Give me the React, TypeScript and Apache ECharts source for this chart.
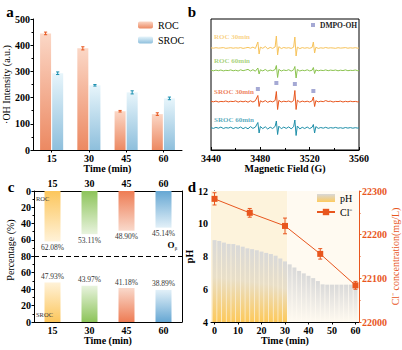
import React, { useEffect, useRef } from 'react';
import * as echarts from 'echarts';

// ---------- data ----------
const timeCats = ['15', '30', '45', '60'];
const rocOH = [445, 388, 148, 137];
const rocOHErr = [5, 6, 3, 5];
const srocOH = [293, 247, 220, 197];
const srocOHErr = [5, 3, 6, 5];

const eprField = [
  3440, 3442, 3444, 3446, 3448, 3450, 3452, 3454, 3456, 3458, 3460, 3462, 3464, 3466, 3468, 3470, 3472, 3474, 3476,
  3478, 3479, 3480, 3482, 3484, 3486, 3488, 3490, 3492,
  3493, 3494, 3495, 3497, 3499, 3501, 3503, 3505, 3507,
  3508, 3509, 3510, 3512, 3514, 3516, 3518, 3520, 3522,
  3523, 3524, 3525, 3527,
  3529, 3531, 3533, 3535, 3537, 3539, 3541, 3543, 3545, 3547, 3549, 3551, 3553, 3555, 3557, 3559, 3560,
];
const eprRoc30 = [
  102.2, 101.8, 102.3, 101.9, 102.1, 102.4, 101.7, 102.0, 102.3, 101.8, 102.2, 101.9, 102.4, 101.6, 102.1, 102.6, 101.8, 102.9, 101.5,
  108.0, 96.0, 102.8, 101.7, 103.5, 101.2, 102.6, 101.6, 103.0,
  114.0, 95.0, 103.3, 101.5, 102.5, 101.9, 102.3, 101.6, 102.8,
  113.0, 94.0, 102.9, 101.4, 102.4, 101.8, 102.3, 101.7, 102.6,
  108.0, 97.0, 102.7, 101.6,
  102.2, 101.8, 102.5, 101.9, 102.2, 102.0, 101.7, 102.3, 101.9, 102.1, 102.4, 101.8, 102.2, 101.9, 102.3, 101.8, 102.0,
];
const eprRoc60 = [
  79.8, 79.2, 79.9, 79.3, 80.0, 79.1, 79.7, 79.4, 80.1, 79.2, 79.8, 79.0, 80.2, 79.3, 79.9, 80.6, 79.0, 80.3, 78.8,
  82.0, 76.0, 80.2, 79.1, 80.5, 78.9, 79.9, 79.3, 80.4,
  84.5, 72.5, 80.6, 79.0, 80.0, 79.4, 80.3, 78.9, 80.2,
  83.5, 72.0, 80.5, 79.0, 79.8, 79.3, 80.2, 79.1, 79.8,
  82.5, 76.5, 80.1, 79.2,
  79.8, 79.4, 80.1, 79.3, 79.9, 79.5, 80.0, 79.2, 79.8, 79.4, 80.1, 79.3, 79.7, 79.5, 80.0, 79.3, 79.7,
];
const eprSroc30 = [
  48.7, 48.2, 48.9, 48.0, 48.6, 48.3, 49.0, 48.1, 48.7, 48.4, 49.1, 47.9, 48.8, 48.2, 48.9, 47.8, 49.2, 48.0, 49.3,
  54.5, 43.5, 49.2, 48.0, 49.4, 47.7, 48.9, 48.1, 49.5,
  58.5, 40.5, 49.6, 48.0, 48.8, 48.3, 49.0, 47.9, 49.4,
  59.5, 40.5, 49.8, 47.8, 48.9, 48.2, 48.8, 48.0, 49.2,
  53.0, 43.5, 49.3, 48.1,
  48.8, 48.3, 49.4, 48.5, 48.9, 48.0, 48.6, 48.4, 48.9, 48.0, 48.7, 48.2, 48.8, 48.3, 48.6, 48.1, 48.5,
];
const eprSroc60 = [
  22.3, 21.6, 22.6, 21.8, 22.9, 21.5, 22.4, 21.9, 22.8, 21.4, 22.5, 21.7, 23.0, 21.3, 22.6, 21.2, 23.4, 21.6, 22.9,
  27.5, 17.0, 23.5, 21.4, 23.2, 21.0, 22.8, 21.5, 23.6,
  29.0, 15.5, 23.8, 21.3, 22.9, 21.6, 23.1, 21.2, 23.3,
  30.0, 14.5, 24.0, 21.1, 22.7, 21.5, 23.0, 21.4, 22.8,
  25.5, 17.0, 23.4, 21.6,
  22.5, 21.8, 22.7, 21.7, 22.4, 21.9, 22.6, 21.8, 22.3, 21.7, 22.5, 21.9, 22.4, 21.8, 22.3, 21.9, 22.2,
];
const dmpoField = [3478, 3493, 3508, 3523];
const dmpoLevel = [61, 67, 66, 59];

const rocPct = [62.08, 53.11, 48.9, 45.14];
const srocPct = [47.93, 43.97, 41.18, 38.89];

const phTime = [0, 2, 4, 6, 8, 10, 12, 14, 16, 18, 20, 22, 24, 26, 28, 30, 32, 34, 36, 38, 40, 42, 44, 46, 48, 50, 52, 54, 56, 58, 60];
const phValues = [9.0, 8.95, 8.85, 8.77, 8.76, 8.68, 8.6, 8.5, 8.45, 8.38, 8.3, 8.22, 8.15, 8.05, 7.88, 7.7, 7.52, 7.33, 7.12, 6.97, 6.82, 6.68, 6.5, 6.3, 6.28, 6.28, 6.28, 6.28, 6.28, 6.28, 6.28];
const clTime = [0, 15, 30, 45, 60];
const clValues = [22282, 22250, 22220, 22156, 22084];
const clErr = [14, 10, 18, 12, 9];
const dTimeTicks = [0, 10, 20, 30, 40, 50, 60];

// ---------- styles ----------
const FONT = 'Liberation Serif, Times New Roman, serif';
const RED = '#e8561e';
const cSat = ['#fcc65c', '#8dc45a', '#ee7c54', '#66a7d3'];
const cPale = ['#fff2d8', '#e8f3de', '#f9d9cb', '#e2f0f8'];
const plain = (v: number) => String(v);

const grad = (a: string, b: string) =>
  new echarts.graphic.LinearGradient(0, 0, 0, 1, [
    { offset: 0, color: a },
    { offset: 1, color: b },
  ]);

function errorBarRender(offset: number, cap: number) {
  return (params: any, api: any) => {
    const xv = api.value(0);
    const v = api.value(1);
    const e = api.value(2);
    const hi = api.coord([xv, v + e]);
    const lo = api.coord([xv, v - e]);
    const cx = hi[0] + offset;
    const style = { stroke: api.visual('color'), lineWidth: 1, fill: 'none' };
    return {
      type: 'group',
      children: [
        { type: 'line', shape: { x1: cx, y1: hi[1], x2: cx, y2: lo[1] }, style },
        { type: 'line', shape: { x1: cx - cap, y1: hi[1], x2: cx + cap, y2: hi[1] }, style },
        { type: 'line', shape: { x1: cx - cap, y1: lo[1], x2: cx + cap, y2: lo[1] }, style },
      ],
    };
  };
}

const axisBase = {
  axisLine: { show: true, lineStyle: { color: '#000', width: 1 } },
  axisTick: { show: true, length: 2.5, lineStyle: { color: '#000' } },
  axisLabel: { color: '#000', fontSize: 10, fontFamily: FONT, fontWeight: 'bold' },
  splitLine: { show: false },
  nameTextStyle: { color: '#000', fontSize: 10, fontFamily: FONT, fontWeight: 'bold' },
};

function buildOption(): any {
  const spectra = [
    { name: 'ROC 30min', data: eprRoc30, color: '#f7c35a' },
    { name: 'ROC 60min', data: eprRoc60, color: '#8bc34f' },
    { name: 'SROC 30min', data: eprSroc30, color: RED },
    { name: 'SROC 60min', data: eprSroc60, color: '#1e8fa9' },
  ];

  return {
    animation: false,
    backgroundColor: '#fff',
    textStyle: { fontFamily: FONT },
    grid: [
      { left: 33, top: 19, width: 149, height: 131 },
      { left: 211, top: 19, width: 148, height: 131, show: true, borderColor: '#000', borderWidth: 1, backgroundColor: 'transparent' },
      { left: 34, top: 191, width: 148, height: 65 },
      { left: 34, top: 256, width: 148, height: 66 },
      { left: 211, top: 191, width: 148, height: 131 },
    ],
    legend: [
      {
        data: ['ROC', 'SROC'], orient: 'vertical', left: 138, top: 20, itemWidth: 15, itemHeight: 7, itemGap: 5,
        padding: 0, textStyle: { fontSize: 10, color: '#000', fontFamily: FONT },
      },
      {
        data: [{ name: 'DMPO-OH', icon: 'rect' }], left: 311, top: 21, itemWidth: 4, itemHeight: 4, padding: 0,
        textStyle: { fontSize: 7.5, fontWeight: 'bold', color: '#222', fontFamily: FONT },
      },
      {
        data: [{ name: 'pH', icon: 'rect' }, { name: 'Cl⁻' }], orient: 'vertical', left: 316, top: 193,
        itemWidth: 18, itemHeight: 8, itemGap: 4, padding: 0,
        textStyle: { fontSize: 10, color: '#000', fontFamily: FONT },
      },
    ],
    xAxis: [
      {
        ...axisBase, type: 'category', gridIndex: 0, data: timeCats,
        axisTick: { ...axisBase.axisTick, alignWithLabel: true },
        axisLabel: { ...axisBase.axisLabel, margin: 3 },
        name: 'Time (min)', nameLocation: 'middle', nameGap: 11,
      },
      {
        ...axisBase, type: 'value', gridIndex: 1, min: 3440, max: 3560, interval: 40,
        axisTick: { ...axisBase.axisTick, inside: true, length: 3 },
        minorTick: { show: true, splitNumber: 2, length: 2, lineStyle: { color: '#000' } },
        axisLabel: { ...axisBase.axisLabel, margin: 3, formatter: plain },
        name: 'Magnetic Field (G)', nameLocation: 'middle', nameGap: 11,
      },
      {
        ...axisBase, type: 'category', gridIndex: 2, position: 'top', data: timeCats,
        axisTick: { show: false },
        axisLabel: { ...axisBase.axisLabel, margin: 3 },
      },
      {
        ...axisBase, type: 'category', gridIndex: 3, data: timeCats,
        axisTick: { show: false },
        axisLabel: { ...axisBase.axisLabel, margin: 3 },
        name: 'Time (min)', nameLocation: 'middle', nameGap: 11,
      },
      {
        ...axisBase, type: 'value', gridIndex: 4, min: -1.5, max: 61.5,
        axisTick: { ...axisBase.axisTick, customValues: dTimeTicks },
        axisLabel: { ...axisBase.axisLabel, margin: 3, customValues: dTimeTicks, formatter: plain },
        name: 'Time (min)', nameLocation: 'middle', nameGap: 11,
      },
    ],
    yAxis: [
      {
        ...axisBase, type: 'value', gridIndex: 0, min: 0, max: 500, interval: 100,
        minorTick: { show: true, splitNumber: 2, length: 1.5, lineStyle: { color: '#000' } },
        axisLabel: { ...axisBase.axisLabel, margin: 3 },
        name: '·OH Intensity (a.u.)', nameLocation: 'middle', nameGap: 19, nameRotate: 90,
        nameTextStyle: { ...axisBase.nameTextStyle, fontWeight: 'normal' },
      },
      { type: 'value', gridIndex: 1, min: 0, max: 131, show: false },
      {
        ...axisBase, type: 'value', gridIndex: 2, min: 0, max: 80, interval: 20, inverse: true,
        minorTick: { show: true, splitNumber: 2, length: 1.5, lineStyle: { color: '#000' } },
        axisLabel: { ...axisBase.axisLabel, margin: 3 },
      },
      {
        ...axisBase, type: 'value', gridIndex: 3, min: 0, max: 80, interval: 20,
        minorTick: { show: true, splitNumber: 2, length: 1.5, lineStyle: { color: '#000' } },
        axisLabel: { ...axisBase.axisLabel, margin: 3, showMaxLabel: false },
      },
      {
        type: 'value', gridIndex: 2, position: 'right', min: 0, max: 80, inverse: true,
        axisLine: { show: true, lineStyle: { color: '#000' } }, axisTick: { show: false }, axisLabel: { show: false }, splitLine: { show: false },
      },
      {
        type: 'value', gridIndex: 3, position: 'right', min: 0, max: 80,
        axisLine: { show: true, lineStyle: { color: '#000' } }, axisTick: { show: false }, axisLabel: { show: false }, splitLine: { show: false },
      },
      {
        ...axisBase, type: 'value', gridIndex: 4, min: 4, max: 12, interval: 2,
        minorTick: { show: true, splitNumber: 2, length: 1.5, lineStyle: { color: '#000' } },
        axisLabel: { ...axisBase.axisLabel, margin: 3 },
        name: 'pH', nameLocation: 'middle', nameGap: 15, nameRotate: 90,
      },
      {
        ...axisBase, type: 'value', gridIndex: 4, position: 'right', min: 22000, max: 22300, interval: 100,
        axisLine: { show: true, lineStyle: { color: RED, width: 1 } },
        axisTick: { show: true, length: 2.5, lineStyle: { color: RED } },
        minorTick: { show: true, splitNumber: 2, length: 1.5, lineStyle: { color: RED } },
        axisLabel: { ...axisBase.axisLabel, color: RED, margin: 3, formatter: plain },
        name: 'Cl⁻ concentration(mg/L)', nameLocation: 'middle', nameGap: 29, nameRotate: 90,
        nameTextStyle: { color: RED, fontSize: 10, fontFamily: FONT },
      },
    ],
    series: [
      // ---- panel a ----
      {
        name: 'ROC', type: 'bar', xAxisIndex: 0, yAxisIndex: 0, data: rocOH, barWidth: 11, barGap: '10%',
        itemStyle: { color: grad('#fbd7c6', '#ec8962') },
      },
      {
        name: 'SROC', type: 'bar', xAxisIndex: 0, yAxisIndex: 0, data: srocOH, barWidth: 11, barGap: '10%',
        itemStyle: { color: grad('#e7f5fb', '#8ebfdc') },
      },
      {
        name: 'ROC err', type: 'custom', xAxisIndex: 0, yAxisIndex: 0, z: 5,
        dimensions: ['x', 'y', 'e'], encode: { x: 0, y: 1 },
        itemStyle: { color: RED },
        data: timeCats.map((c, i) => [c, rocOH[i], rocOHErr[i]]),
        renderItem: errorBarRender(-6.05, 1.6),
      },
      {
        name: 'SROC err', type: 'custom', xAxisIndex: 0, yAxisIndex: 0, z: 5,
        dimensions: ['x', 'y', 'e'], encode: { x: 0, y: 1 },
        itemStyle: { color: '#1a8fb0' },
        data: timeCats.map((c, i) => [c, srocOH[i], srocOHErr[i]]),
        renderItem: errorBarRender(6.05, 1.6),
      },
      // ---- panel b ----
      ...spectra.map((s) => ({
        name: s.name, type: 'line', xAxisIndex: 1, yAxisIndex: 1, showSymbol: false, symbol: 'none',
        data: eprField.map((x, i) => [x, s.data[i]]),
        lineStyle: { color: s.color, width: 1 }, itemStyle: { color: s.color },
      })),
      {
        name: 'DMPO-OH', type: 'scatter', xAxisIndex: 1, yAxisIndex: 1, symbol: 'rect', symbolSize: 4, z: 5,
        itemStyle: { color: '#8f93c9' },
        data: dmpoField.map((x, i) => [x, dmpoLevel[i]]),
      },
      // ---- panel c ----
      {
        name: 'ROC Oβ', type: 'bar', xAxisIndex: 2, yAxisIndex: 2, barWidth: 16,
        data: rocPct.map((v, i) => ({ value: v, itemStyle: { color: grad(cSat[i], cPale[i]) } })),
        label: {
          show: true, position: 'bottom', distance: 2, fontSize: 7.5, color: '#333', fontFamily: FONT,
          formatter: (p: any) => `${Number(p.value).toFixed(2)}%`,
        },
      },
      {
        name: 'SROC Oβ', type: 'bar', xAxisIndex: 3, yAxisIndex: 3, barWidth: 16,
        data: srocPct.map((v, i) => ({ value: v, itemStyle: { color: grad(cPale[i], cSat[i]) } })),
        label: {
          show: true, position: 'top', distance: 2, fontSize: 7.5, color: '#333', fontFamily: FONT,
          formatter: (p: any) => `${Number(p.value).toFixed(2)}%`,
        },
        markLine: {
          silent: true, symbol: ['none', 'none'], label: { show: false },
          lineStyle: { color: '#000', type: [5, 3], width: 1 },
          data: [{ yAxis: 80 }],
        },
      },
      // ---- panel d ----
      {
        name: 'pH', type: 'bar', xAxisIndex: 4, yAxisIndex: 6, barWidth: 4,
        itemStyle: { color: grad('#d8d8d8', '#fdcb60') },
        data: phTime.map((t, i) => ({
          value: [t, phValues[i]],
          itemStyle: {
            color: t <= 30
              ? new echarts.graphic.LinearGradient(0, 0, 0, 1, [
                  { offset: 0, color: '#d9d9d9' },
                  { offset: 0.45, color: '#e9dfc8' },
                  { offset: 1, color: '#fdc95a' },
                ])
              : grad('#d9d9d9', '#fffaf0'),
          },
        })),
        markArea: {
          silent: true,
          data: [
            [{ xAxis: -1.5, itemStyle: { color: '#fdf3dc' } }, { xAxis: 31 }],
            [{ xAxis: 31, itemStyle: { color: '#fffaf1' } }, { xAxis: 61.5 }],
          ],
        },
      },
      {
        name: 'Cl⁻', type: 'line', xAxisIndex: 4, yAxisIndex: 7, symbol: 'rect', symbolSize: 6, z: 6,
        lineStyle: { color: RED, width: 1 }, itemStyle: { color: RED },
        data: clTime.map((t, i) => [t, clValues[i]]),
      },
      {
        name: 'Cl err', type: 'custom', xAxisIndex: 4, yAxisIndex: 7, z: 5,
        dimensions: ['x', 'y', 'e'], encode: { x: 0, y: 1 },
        itemStyle: { color: RED },
        data: clTime.map((t, i) => [t, clValues[i], clErr[i]]),
        renderItem: errorBarRender(0, 2),
      },
    ],
    graphic: [
      { type: 'text', z: 100, x: 10, y: 12, style: { text: 'a', font: `bold 15px ${FONT}`, fill: '#000', align: 'center', verticalAlign: 'middle' } },
      { type: 'text', z: 100, x: 192, y: 12, style: { text: 'b', font: `bold 15px ${FONT}`, fill: '#000', align: 'center', verticalAlign: 'middle' } },
      { type: 'text', z: 100, x: 11, y: 187, style: { text: 'c', font: `bold 15px ${FONT}`, fill: '#000', align: 'center', verticalAlign: 'middle' } },
      { type: 'text', z: 100, x: 192, y: 187, style: { text: 'd', font: `bold 15px ${FONT}`, fill: '#000', align: 'center', verticalAlign: 'middle' } },
      ...spectra.map((s, i) => ({
        type: 'text', z: 100, x: 214, y: [37, 61, 92, 120][i],
        style: { text: s.name, font: `bold 7px ${FONT}`, fill: s.color, align: 'left', verticalAlign: 'middle', opacity: 0.75 },
      })),
      { type: 'text', z: 100, x: 36, y: 198, style: { text: 'ROC', font: `6.5px ${FONT}`, fill: '#333', align: 'left', verticalAlign: 'middle' } },
      { type: 'text', z: 100, x: 36, y: 314, style: { text: 'SROC', font: `6.5px ${FONT}`, fill: '#333', align: 'left', verticalAlign: 'middle' } },
      { type: 'text', z: 100, x: 171, y: 245, style: { text: 'O', font: `bold 9px ${FONT}`, fill: '#000', align: 'center', verticalAlign: 'middle' } },
      { type: 'text', z: 100, x: 176, y: 248, style: { text: 'β', font: `5px ${FONT}`, fill: '#000', align: 'center', verticalAlign: 'middle' } },
      {
        type: 'text', z: 100, x: 10, y: 250, rotation: Math.PI / 2,
        style: { text: 'Percentage (%)', font: `10px ${FONT}`, fill: '#000', align: 'center', verticalAlign: 'middle' },
      },
    ],
  };
}

export default function App() {
  const ref = useRef<HTMLDivElement>(null);
  useEffect(() => {
    if (!ref.current) return;
    const chart = echarts.init(ref.current, null, { renderer: 'svg' });
    chart.setOption(buildOption());
    return () => chart.dispose();
  }, []);
  return (
    <div
      ref={ref}
      style={{ position: 'fixed', left: 0, top: 0, width: 402, height: 350, background: '#fff' }}
    />
  );
}
